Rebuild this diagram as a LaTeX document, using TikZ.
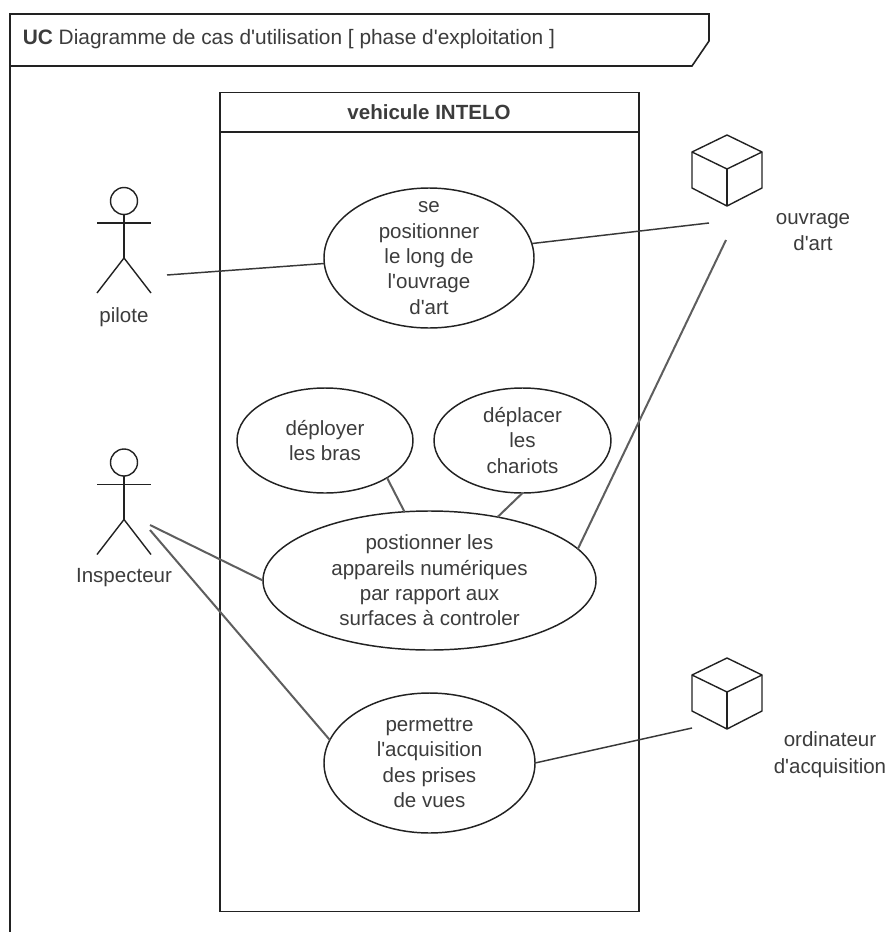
\documentclass[tikz,border=0pt]{standalone}
\usepackage{fontspec}
\setmainfont{Liberation Sans}[Ligatures=TeXOff]
\usetikzlibrary{shapes.geometric}
\definecolor{ink}{HTML}{222222}
\definecolor{txt}{HTML}{3C3C3C}
\definecolor{conn}{HTML}{5E5E5E}
\tikzset{
  x=0.75pt,y=-0.75pt,
  usecase/.style={draw=ink,line width=1.1pt,ellipse,inner sep=-45pt,outer sep=0pt,align=center,font=\fontsize{15.4}{19}\selectfont,text=txt},
  lbl/.style={align=center,font=\fontsize{15.4}{20}\selectfont,text=txt,inner sep=0pt},
  box/.style={draw=ink,line width=1.2pt},
  conthin/.style={draw=ink!90,line width=1.1pt},
  conline/.style={draw=conn,line width=1.5pt},
  fig/.style={draw=ink,line width=1.05pt,line join=round}
}
\newcommand{\actor}[2]{%
  \draw[fig] (#1,#2) circle[radius=13.5];
  \draw[fig] (#1,#2+13.5) -- (#1,#2+57);
  \draw[fig] (#1-27,#2+22) -- (#1+27,#2+22);
  \draw[fig] (#1-27,#2+92) -- (#1,#2+57) -- (#1+27,#2+92);
}
\newcommand{\cube}[2]{%
  \draw[fig] (#1,#2) -- (#1+35,#2+17) -- (#1+35,#2+53) -- (#1,#2+71) -- (#1-35,#2+53) -- (#1-35,#2+17) -- cycle;
  \draw[fig] (#1-35,#2+17) -- (#1,#2+34) -- (#1+35,#2+17);
  \draw[fig] (#1,#2+34) -- (#1,#2+71);
}
\begin{document}
\begin{tikzpicture}
\useasboundingbox (0,0) rectangle (889,932);
\fill[white] (0,0) rectangle (889,932);
% frame
\draw[box] (10,932) -- (10,14) -- (709,14) -- (709,41) -- (692,66) -- (10,66);
\node[lbl,anchor=west,font=\fontsize{15.65}{20}\selectfont] (title) at (22.5,39) {\textbf{UC} Diagramme de cas d'utilisation [ phase d'exploitation ]};
% system
\draw[box] (220,92.5) rectangle (639,911.5);
\draw[box] (220,132) -- (639,132);
\node[lbl] (sys) at (429,112) {\textbf{vehicule INTELO}};
% free connector ends
\coordinate (pilotec) at (167,275);
\coordinate (inspa) at (150,525);
\coordinate (inspb) at (150,530);
\coordinate (ouvc) at (709,223);
\coordinate (ouvd) at (726,240);
\coordinate (ordc) at (692,728);
% use cases
\node[usecase,minimum width=157.5pt,minimum height=105pt] (uc1) at (429,258) {se\\positionner\\le long de\\l'ouvrage\\d'art};
\node[usecase,minimum width=132pt,minimum height=78.75pt] (uc2) at (325,440.5) {déployer\\les bras};
\node[usecase,minimum width=132.75pt,minimum height=78.75pt] (uc3) at (522.5,440.5) {déplacer\\les\\chariots};
\node[usecase,minimum width=249.75pt,minimum height=104.25pt] (uc4) at (429.5,580.5) {postionner les\\appareils numériques\\par rapport aux\\surfaces à controler};
\node[usecase,minimum width=158.25pt,minimum height=105pt] (uc5) at (429.5,763) {permettre\\l'acquisition\\des prises\\de vues};
% connectors
\draw[conthin] (pilotec) -- (uc1.183.8);
\draw[conthin] (uc1.8.7) -- (ouvc);
\draw[conline] (inspa) -- (uc4.180);
\draw[conline] (inspb) -- (uc5.167.2);
\draw[conline] (uc2.-31.4) -- (uc4.110.9);
\draw[conline] (uc3.270) -- (uc4.43.7);
\draw[conline] (uc4.12.4) -- (ouvd);
\draw[conthin] (uc5.0) -- (ordc);
% actors
\actor{124}{201}
\actor{124}{462.5}
\node[lbl] (l1) at (124,317) {pilote};
\node[lbl] (l2) at (124,578) {Inspecteur};
% cubes
\cube{727}{135}
\cube{727}{658}
\node[lbl] (l3) at (813,232) {ouvrage\\d'art};
\node[lbl] (l4) at (830,755) {ordinateur\\d'acquisition};
\end{tikzpicture}
\end{document}
